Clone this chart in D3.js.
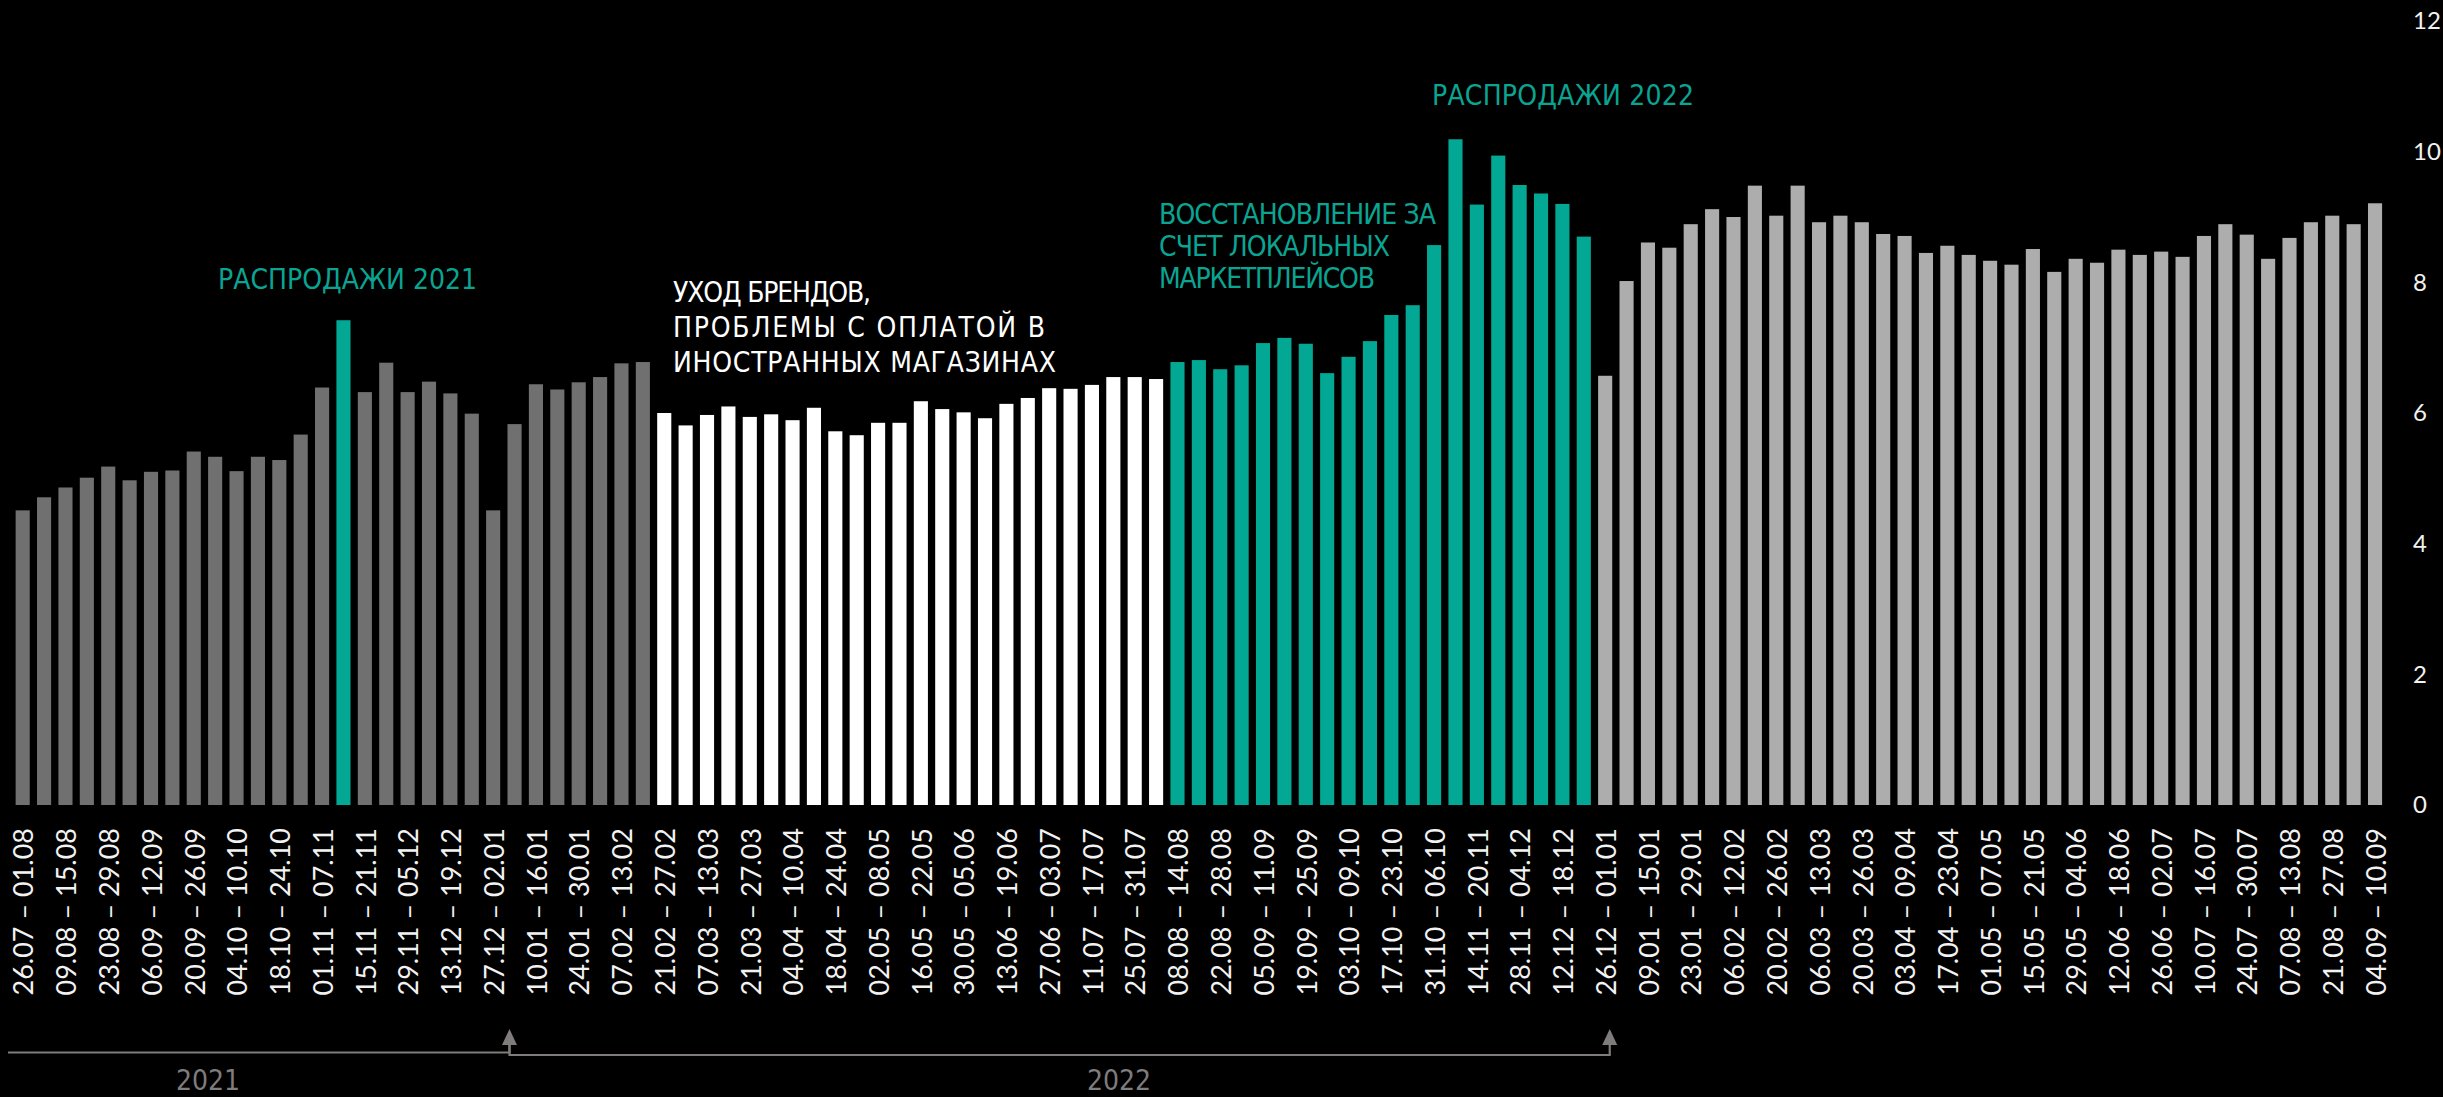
<!DOCTYPE html>
<html>
<head>
<meta charset="utf-8">
<script src="https://cdn.jsdelivr.net/npm/d3@7"></script>
<style>
body {
  margin: 0px;
  overflow: hidden;
  background: #000;
}
.tick text {
  font-family: Lato, sans-serif;
  font-size: 24px;
  fill: #f2f2f2;
}
.xlab {
  font-family: Lato, sans-serif;
  font-size: 27px;
  fill: #f2f2f2;
}
.note {
  font-family: "Liberation Sans Narrow", "DejaVu Sans Condensed", sans-serif;
  font-size: 28px;
}
.year {
  font-family: "Liberation Sans Narrow", "DejaVu Sans Condensed", sans-serif;
  font-size: 28px;
  fill: #7f7c7b;
}
</style>
</head>
<body>
<svg width="2443" height="1097"></svg>
<script>
// weekly values, 26.07.2021 - 10.09.2023
const values = [
  4.51, 4.71, 4.86, 5.01, 5.18, 4.97, 5.10, 5.12, 5.41, 5.33, 5.11, 5.33, 5.28, 5.67, 6.39,
  7.42, 6.32, 6.77, 6.32, 6.48, 6.30, 5.99, 4.51, 5.83, 6.44, 6.36, 6.47, 6.55, 6.76, 6.78,
  6.00, 5.81, 5.97, 6.10, 5.94, 5.98, 5.89, 6.08, 5.72, 5.66, 5.85, 5.85, 6.18, 6.06, 6.01,
  5.92, 6.14, 6.23, 6.38, 6.37, 6.43, 6.55, 6.55, 6.52,
  6.78, 6.81, 6.67, 6.73, 7.07, 7.15, 7.06, 6.61, 6.86, 7.10, 7.50, 7.65, 8.57, 10.19, 9.19,
  9.94, 9.49, 9.36, 9.20, 8.70,
  6.57, 8.02, 8.61, 8.53, 8.89, 9.12, 9.00, 9.48, 9.02, 9.48, 8.92, 9.02, 8.92, 8.74, 8.71,
  8.45, 8.56, 8.42, 8.33, 8.27, 8.51, 8.16, 8.36, 8.30, 8.50, 8.42, 8.47, 8.39, 8.71, 8.89,
  8.73, 8.36, 8.68, 8.92, 9.02, 8.89, 9.21
];

// every second week is labelled
const weekLabels = [
  '26.07 – 01.08', '09.08 – 15.08', '23.08 – 29.08', '06.09 – 12.09', '20.09 – 26.09',
  '04.10 – 10.10', '18.10 – 24.10', '01.11 – 07.11', '15.11 – 21.11', '29.11 – 05.12',
  '13.12 – 19.12', '27.12 – 02.01', '10.01 – 16.01', '24.01 – 30.01', '07.02 – 13.02',
  '21.02 – 27.02', '07.03 – 13.03', '21.03 – 27.03', '04.04 – 10.04', '18.04 – 24.04',
  '02.05 – 08.05', '16.05 – 22.05', '30.05 – 05.06', '13.06 – 19.06', '27.06 – 03.07',
  '11.07 – 17.07', '25.07 – 31.07', '08.08 – 14.08', '22.08 – 28.08', '05.09 – 11.09',
  '19.09 – 25.09', '03.10 – 09.10', '17.10 – 23.10', '31.10 – 06.10', '14.11 – 20.11',
  '28.11 – 04.12', '12.12 – 18.12', '26.12 – 01.01', '09.01 – 15.01', '23.01 – 29.01',
  '06.02 – 12.02', '20.02 – 26.02', '06.03 – 13.03', '20.03 – 26.03', '03.04 – 09.04',
  '17.04 – 23.04', '01.05 – 07.05', '15.05 – 21.05', '29.05 – 04.06', '12.06 – 18.06',
  '26.06 – 02.07', '10.07 – 16.07', '24.07 – 30.07', '07.08 – 13.08', '21.08 – 27.08',
  '04.09 – 10.09'
];

// runs of weeks by phase
const phaseRuns = [
  ['base', 15], ['sale', 1], ['base', 14], ['exit', 24], ['recovery', 20], ['after', 37]
];

const yTicks = [0, 2, 4, 6, 8, 10, 12];

const notes = [
  { lines: ['РАСПРОДАЖИ 2021'], x: 218, y: 289, w: 259, cls: 'teal' },
  { lines: ['УХОД БРЕНДОВ,', 'ПРОБЛЕМЫ С ОПЛАТОЙ В', 'ИНОСТРАННЫХ МАГАЗИНАХ'], x: 673, y: 302, w: [198, 372, 383], cls: 'white' },
  { lines: ['ВОССТАНОВЛЕНИЕ ЗА', 'СЧЕТ ЛОКАЛЬНЫХ', 'МАРКЕТПЛЕЙСОВ'], x: 1159, y: 224, w: [277, 231, 216], cls: 'teal' },
  { lines: ['РАСПРОДАЖИ 2022'], x: 1432, y: 105, w: 262, cls: 'teal' }
];

const svg = d3.select('svg');

const phases = [];
phaseRuns.forEach(([p, n]) => { for (let k = 0; k < n; k++) phases.push(p); });

const data = values.map((v, i) => ({
  i: i,
  value: v,
  phase: phases[i],
  label: i % 2 === 0 ? weekLabels[i / 2] : ''
}));

const color = d3.scaleOrdinal()
  .domain(['base', 'sale', 'exit', 'recovery', 'after'])
  .range(['#707070', '#03a894', '#ffffff', '#03a894', '#adadad']);

const x = d3.scaleBand()
  .domain(data.map(d => d.i))
  .range([12, 12 + 111 * 21.385])
  .paddingInner(0.34)
  .paddingOuter(0.17);

const y = d3.scaleLinear()
  .domain([0, 12])
  .range([805, 21]);

svg.append('g')
  .selectAll('rect')
  .data(data)
  .enter().append('rect')
  .attr('x', d => x(d.i))
  .attr('width', x.bandwidth())
  .attr('y', d => y(d.value))
  .attr('height', d => y(0) - y(d.value))
  .attr('fill', d => color(d.phase));

// y axis on the right
const yAxisG = svg.append('g')
  .attr('transform', 'translate(2402,0)')
  .call(d3.axisRight(y).tickValues(yTicks).tickSize(0).tickPadding(11));
yAxisG.select('.domain').remove();

// rotated week labels
svg.append('g')
  .selectAll('text')
  .data(data.filter(d => d.label))
  .enter().append('text')
  .attr('class', 'xlab')
  .attr('transform', d => `translate(${x(d.i) + x.bandwidth() / 2 + 1},828) rotate(-90)`)
  .attr('text-anchor', 'end')
  .attr('dy', '0.36em')
  .text(d => d.label);

// annotations
notes.forEach(n => {
  n.lines.forEach((line, k) => {
    svg.append('text')
      .attr('class', 'note')
      .attr('x', n.x)
      .attr('y', n.y + k * (n.cls === 'white' ? 35 : 32))
      .attr('fill', n.cls === 'teal' ? '#0aa592' : '#ffffff')
      .attr('textLength', Array.isArray(n.w) ? n.w[k] : n.w)
      .attr('lengthAdjust', 'spacing')
      .text(line);
  });
});

// year brackets
const ax1 = x(23) + 2;
const ax2 = x(74) + x.bandwidth() - 2.5;
const grey = '#7f7c7b';
svg.append('path')
  .attr('d', `M8,1052.5H${ax1}V1044`)
  .attr('fill', 'none').attr('stroke', grey).attr('stroke-width', 2.2);
svg.append('path')
  .attr('d', `M${ax1},1044V1055H${ax2}V1044`)
  .attr('fill', 'none').attr('stroke', grey).attr('stroke-width', 2.2);
[ax1, ax2].forEach(ax => {
  svg.append('path')
    .attr('d', `M${ax},1029L${ax + 7.5},1045L${ax - 7.5},1045Z`)
    .attr('fill', grey);
});

svg.append('text').attr('class', 'year').attr('x', 176).attr('y', 1090).text('2021');
svg.append('text').attr('class', 'year').attr('x', 1087).attr('y', 1090).text('2022');
</script>
</body>
</html>
